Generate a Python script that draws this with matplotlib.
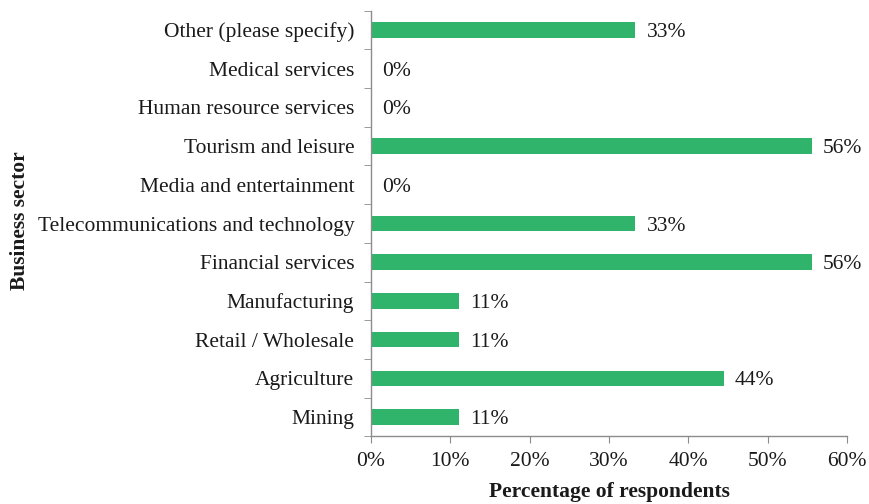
import numpy as np
import matplotlib
matplotlib.use('Agg')
import matplotlib.pyplot as plt
from matplotlib.ticker import FixedLocator, PercentFormatter

plt.rcParams['font.family'] = ['Liberation Serif', 'DejaVu Serif']

sectors = ['Mining', 'Agriculture', 'Retail / Wholesale', 'Manufacturing',
           'Financial services', 'Telecommunications and technology',
           'Media and entertainment', 'Tourism and leisure',
           'Human resource services', 'Medical services', 'Other (please specify)']
respondents = [1, 4, 1, 1, 5, 3, 0, 5, 0, 0, 3]   # out of 9
total = 9
share = [100 * r / total for r in respondents]

bar_color = '#30b46c'
axis_color = '#8c8c8c'
text_color = '#1a1a1a'
fs = 15.5

fig = plt.figure(figsize=(8.7, 5.04), dpi=100)
ax = fig.add_axes([0.4264, 0.134, 0.5472, 0.845])

y = np.arange(len(sectors))
ax.barh(y, share, height=0.4, color=bar_color, zorder=2)

for yi, s in zip(y, share):
    ax.text(s + 1.4, yi, '%d%%' % round(s), va='center_baseline', ha='left',
            fontsize=fs, color=text_color)

ax.set_xlim(0, 60)
ax.set_ylim(-0.5, len(sectors) - 0.5)
ax.set_xticks(np.arange(0, 61, 10))
ax.xaxis.set_major_formatter(PercentFormatter(decimals=0))
ax.set_yticks(y)
ax.set_yticklabels(sectors)
ax.yaxis.set_minor_locator(FixedLocator(np.arange(-0.5, len(sectors), 1)))

ax.tick_params(axis='y', which='major', length=0, pad=12, labelsize=fs,
               labelcolor=text_color)
ax.tick_params(axis='y', which='minor', length=5, color=axis_color, direction='out')
ax.tick_params(axis='x', which='major', length=5, color=axis_color, direction='out',
               labelsize=fs, labelcolor=text_color, pad=6)

for side in ['top', 'right']:
    ax.spines[side].set_visible(False)
for side in ['left', 'bottom']:
    ax.spines[side].set_color(axis_color)
    ax.spines[side].set_linewidth(1.0)

ax.set_xlabel('Percentage of respondents', fontsize=fs, fontweight='bold',
              color=text_color, labelpad=8)
fig.text(0.023, 0.563, 'Business sector', rotation=90, fontsize=fs,
         fontweight='bold', color=text_color, ha='center', va='center')

fig.savefig('out.png', dpi=100)
